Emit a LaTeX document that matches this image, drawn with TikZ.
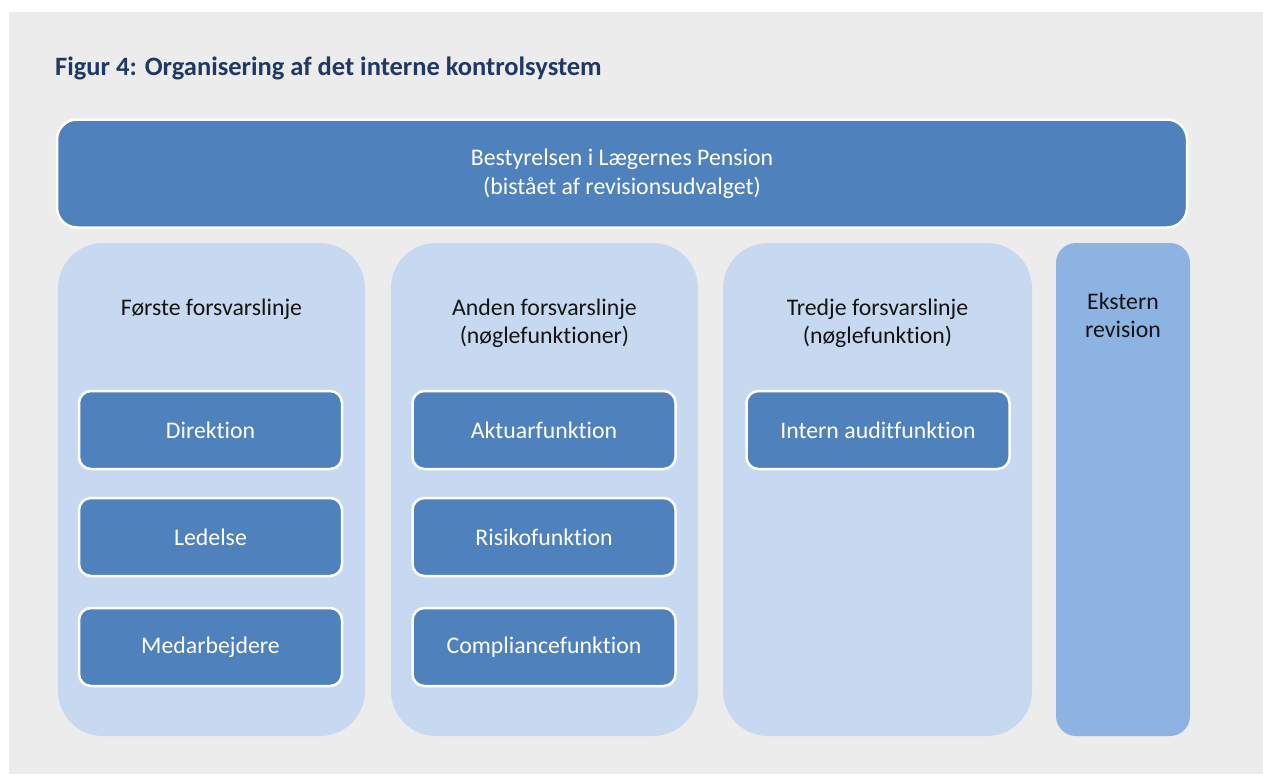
\documentclass[tikz,border=0pt]{standalone}
\usepackage{fontspec}
\setmainfont{Carlito}[Ligatures=NoCommon]
\definecolor{bgray}{RGB}{236,236,236}
\definecolor{darkbox}{RGB}{79,129,189}
\definecolor{lightcol}{RGB}{198,217,241}
\definecolor{extcol}{RGB}{141,179,226}
\definecolor{titleblue}{RGB}{31,56,100}
\definecolor{darktext}{RGB}{20,20,20}
\tikzset{
  topbar/.style={fill=darkbox, draw=white, line width=2.5pt, rounded corners=20pt, inner sep=0pt, outer sep=0pt, text=white, align=center, font=\fontsize{23.8}{29}\selectfont},
  colbox/.style={fill=lightcol, draw=none, rounded corners=45pt, inner sep=0pt, outer sep=0pt},
  extbox/.style={fill=extcol, draw=none, rounded corners=20pt, inner sep=0pt, outer sep=0pt},
  subbox/.style={fill=darkbox, draw=white, line width=2.5pt, rounded corners=12pt, inner sep=0pt, outer sep=0pt, minimum width=263pt, minimum height=78pt, text=white, font=\fontsize{23.8}{28}\selectfont},
  coltitle/.style={text=darktext, align=center, inner sep=0pt, font=\fontsize{23.8}{28}\selectfont},
}
\begin{document}
\begin{tikzpicture}[x=1pt,y=-1pt]
\useasboundingbox (0,0) rectangle (1263,774);
\fill[white] (0,0) rectangle (1263,774);
\fill[bgray] (9,12) rectangle (1263,774);
\node[anchor=base west, inner sep=0pt, text=titleblue, font=\fontsize{26.5}{30}\selectfont\bfseries] (title) at (55,75) {Figur 4: Organisering af det interne kontrolsystem};
\node[topbar, minimum width=1130pt, minimum height=108pt] (board) at (622,173.5) {Bestyrelsen i Lægernes Pension\\ (bistået af revisionsudvalget)};
\node[colbox, minimum width=307pt, minimum height=493pt] (col1) at (211.5,489.5) {};
\node[colbox, minimum width=307pt, minimum height=493pt] (col2) at (544.5,489.5) {};
\node[colbox, minimum width=309pt, minimum height=493pt] (col3) at (877.5,489.5) {};
\node[extbox, minimum width=134pt, minimum height=493pt] (col4) at (1123,489.5) {};
\node[coltitle] (t1) at (211.5,309) {Første forsvarslinje};
\node[coltitle] (t2) at (544.5,323) {Anden forsvarslinje\\ (nøglefunktioner)};
\node[coltitle] (t3) at (877.5,323) {Tredje forsvarslinje\\ (nøglefunktion)};
\node[coltitle] (t4) at (1123,315) {Ekstern\\ revision};
\node[subbox] (b11) at (210.5,430) {Direktion};
\node[subbox] (b12) at (210.5,537) {Ledelse};
\node[subbox] (b13) at (210.5,647) {Medarbejdere};
\node[subbox] (b21) at (544,430) {Aktuarfunktion};
\node[subbox] (b22) at (544,537) {Risikofunktion};
\node[subbox] (b23) at (544,647) {Compliancefunktion};
\node[subbox] (b31) at (878,430) {Intern auditfunktion};
\end{tikzpicture}
\end{document}
